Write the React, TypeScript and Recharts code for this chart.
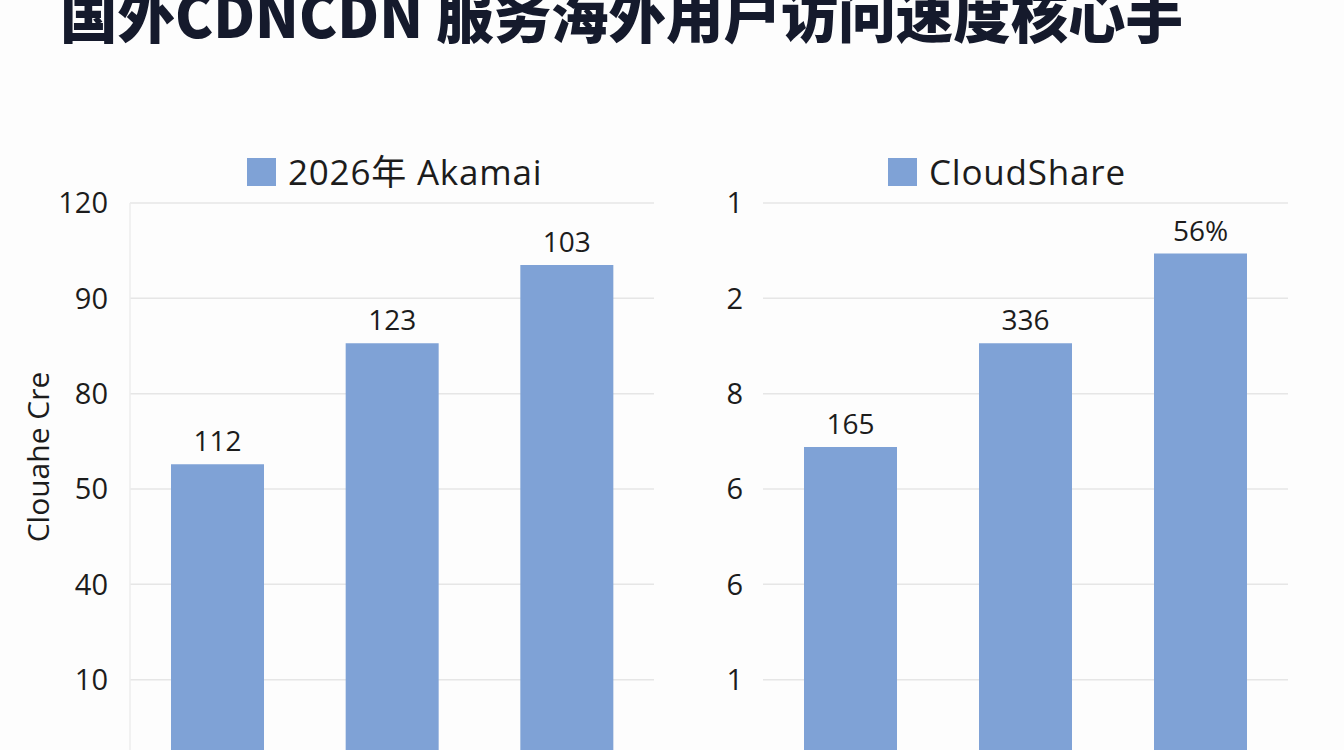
import React from "react";
import { BarChart, Bar, XAxis, YAxis, CartesianGrid, LabelList, Legend } from "recharts";

const titleText = "国外CDNCDN 服务海外用户访问速度核心手";
const categories = ["类别1", "类别2", "类别3"];

const leftSeriesName = "2026年 Akamai";
const leftValues = [3.26, 4.53, 5.35];
const leftLabels = ["112", "123", "103"];
const leftTickLabels = ["10", "40", "50", "80", "90", "120"];
const leftAxisTitle = "Clouahe Cre";

const rightSeriesName = "CloudShare";
const rightValues = [3.44, 4.53, 5.47];
const rightLabels = ["165", "336", "56%"];
const rightTickLabels = ["1", "6", "6", "8", "2", "1"];

const tickValues = [1, 2, 3, 4, 5, 6];

const BAR = "#7FA2D6";
const GRID = "#e6e6e6";
const TEXT = "#1c1c1c";
const FONT = "'Open Sans', 'Noto Sans CJK SC', sans-serif";

const leftData = categories.map((c, i) => ({ name: c, value: leftValues[i], label: leftLabels[i] }));
const rightData = categories.map((c, i) => ({ name: c, value: rightValues[i], label: rightLabels[i] }));

function LegendBox({ name, left }: { name: string; left: number }) {
  return (
    <div style={{ position: "absolute", left, top: 0, display: "flex", alignItems: "center", whiteSpace: "nowrap" }}>
      <div style={{ width: 29, height: 28, background: BAR, marginRight: 12 }} />
      <span style={{ fontFamily: FONT, fontSize: 35, letterSpacing: 0.8, color: TEXT, lineHeight: "28px" }}>{name}</span>
    </div>
  );
}

function Panel({
  data, name, tickLabels, width, yWidth, rightMargin, tickMargin, legendLeft, axisTitle, showAxisLine,
}: any) {
  return (
    <BarChart width={width} height={800} data={data} margin={{ top: 173, right: rightMargin, bottom: 25, left: 0 }}>
      <CartesianGrid vertical={false} stroke={GRID} strokeWidth={1.5} />
      <XAxis dataKey="name" hide />
      <YAxis
        width={yWidth}
        domain={[0, 6]}
        ticks={tickValues}
        tickFormatter={(v: number) => tickLabels[v - 1]}
        tickLine={false}
        tickSize={0}
        tickMargin={tickMargin}
        axisLine={showAxisLine ? { stroke: "#ececec", strokeWidth: 1.5 } : false}
        tick={{ fill: TEXT, fontSize: 29, fontFamily: FONT }}
        interval={0}
        label={
          axisTitle
            ? {
                content: () => (
                  <text
                    x={37}
                    y={457}
                    transform="rotate(-90 37 457)"
                    textAnchor="middle"
                    dominantBaseline="central"
                    fill={TEXT}
                    fontSize={30}
                    fontFamily={FONT}
                  >
                    {axisTitle}
                  </text>
                ),
              }
            : undefined
        }
      />
      <Legend
        verticalAlign="top"
        wrapperStyle={{ position: "absolute", top: 158, left: 0, width: width, height: 30 }}
        content={() => <LegendBox name={name} left={legendLeft} />}
      />
      <Bar dataKey="value" name={name} fill={BAR} barSize={93} isAnimationActive={false}>
        <LabelList dataKey="label" position="top" offset={13} fill={TEXT} fontSize={28} fontFamily={FONT} />
      </Bar>
    </BarChart>
  );
}

export default function App() {
  return (
    <div style={{ position: "absolute", left: 0, top: 0, width: 1344, height: 750, overflow: "hidden", background: "#fdfdfd" }}>
      <svg width={1344} height={80} style={{ position: "absolute", left: 0, top: 0 }}>
        <text
          x={60}
          y={38}
          fontSize={60}
          fontWeight={900}
          fill="#151a2c"
          fontFamily="'Noto Sans CJK SC', sans-serif"
          textLength={1123}
          lengthAdjust="spacingAndGlyphs"
        >
          {titleText}
        </text>
      </svg>
      <div style={{ position: "absolute", left: 0, top: 0 }}>
        <Panel
          data={leftData}
          name={leftSeriesName}
          tickLabels={leftTickLabels}
          width={680}
          yWidth={130}
          rightMargin={26}
          tickMargin={22}
          legendLeft={247}
          axisTitle={leftAxisTitle}
          showAxisLine
        />
      </div>
      <div style={{ position: "absolute", left: 672, top: 0 }}>
        <Panel
          data={rightData}
          name={rightSeriesName}
          tickLabels={rightTickLabels}
          width={672}
          yWidth={91}
          rightMargin={56}
          tickMargin={20}
          legendLeft={888 - 672}
          axisTitle={null}
          showAxisLine={false}
        />
      </div>
    </div>
  );
}
